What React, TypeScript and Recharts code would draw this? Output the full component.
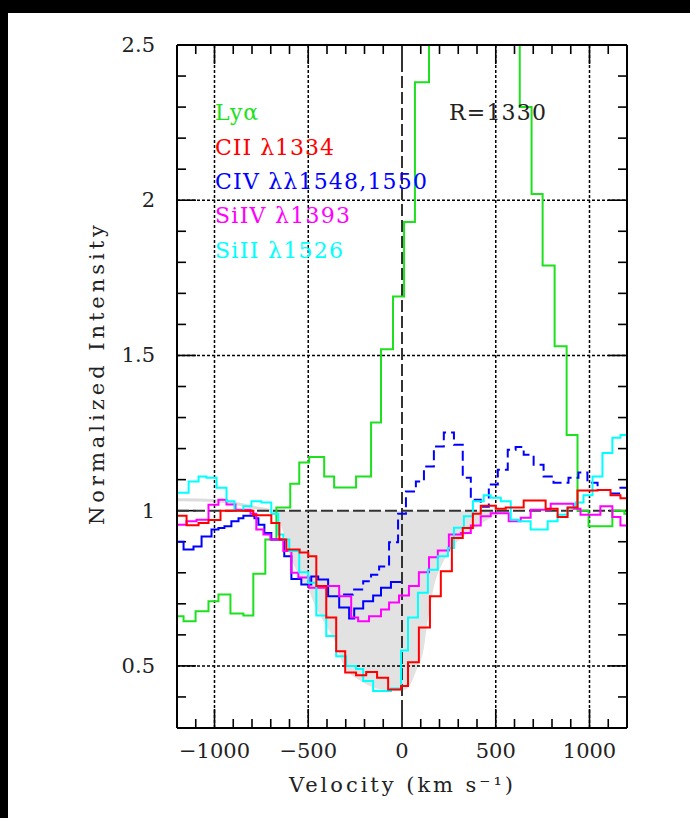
import { ComposedChart, Line, Area, XAxis, YAxis, ReferenceLine } from 'recharts';

// Lyα (green)
const lyaV = [-1200, -1165, -1101, -1032, -979, -915, -846, -793, -729, -670, -596, -548, -495, -415, -362, -245, -165, -112, -48, 11, 69, 144, 202, 261, 319, 378, 436, 495, 553, 628, 691, 750, 814, 878, 936, 995, 1122, 1186, 1200];
const lyaI = [0.66, 0.644, 0.676, 0.708, 0.73, 0.669, 0.662, 0.797, 0.907, 1.01, 1.087, 1.155, 1.173, 1.11, 1.075, 1.11, 1.284, 1.52, 1.69, 1.93, 2.38, 2.8, 3.1, 3.4, 3.5, 3.4, 3.2, 3.0, 2.8, 2.3, 2.02, 1.79, 1.53, 1.244, 1.0, 0.95, 1.0, 0.99, 0.99];

// CII λ1334 (red)
const ciiV = [-1200, -1149, -1085, -1032, -968, -883, -793, -697, -654, -617, -546, -500, -457, -404, -351, -303, -245, -191, -133, -74, -5, 32, 90, 149, 207, 266, 324, 378, 420, 500, 553, 649, 766, 830, 883, 936, 1043, 1112, 1165, 1200];
const ciiI = [0.984, 0.953, 0.96, 0.97, 1.0, 1.0, 0.985, 0.96, 0.907, 0.875, 0.865, 0.853, 0.757, 0.656, 0.547, 0.479, 0.47, 0.48, 0.462, 0.424, 0.435, 0.512, 0.624, 0.724, 0.805, 0.912, 0.944, 0.99, 1.016, 1.006, 1.01, 1.033, 1.006, 0.98, 1.01, 1.065, 1.067, 1.05, 1.04, 1.04];

// CIV λ1548 (blue, solid) and λ1550 (blue, dashed)
const civV = [-1200, -1165, -1112, -1069, -1016, -979, -947, -910, -872, -846, -787, -766, -734, -697, -628, -590, -537, -484, -447, -394, -335, -282, -255, -207, -154, -112, -59, -5];
const civI = [0.9, 0.875, 0.885, 0.917, 0.939, 0.944, 0.95, 0.966, 0.976, 0.984, 0.976, 0.955, 0.928, 0.907, 0.853, 0.78, 0.762, 0.788, 0.778, 0.724, 0.688, 0.653, 0.685, 0.708, 0.727, 0.752, 0.77, 0.77];
const civbV = [-314, -261, -207, -165, -122, -69, -21, 21, 74, 117, 170, 223, 277, 324, 367, 420, 463, 511, 564, 606, 649, 702, 755, 808, 888, 941, 989, 1043, 1101, 1165, 1200];
const civbI = [0.73, 0.746, 0.773, 0.794, 0.82, 0.898, 0.99, 1.062, 1.094, 1.142, 1.207, 1.252, 1.212, 1.106, 1.035, 1.013, 1.084, 1.132, 1.196, 1.205, 1.18, 1.148, 1.11, 1.09, 1.106, 1.123, 1.09, 1.067, 1.055, 1.074, 1.074];

// SiIV λ1393 (magenta)
const siivV = [-1200, -1149, -1096, -1032, -979, -936, -888, -808, -777, -739, -702, -633, -590, -553, -495, -415, -335, -271, -234, -176, -112, -69, -16, 37, 90, 144, 191, 250, 314, 367, 420, 473, 569, 633, 686, 793, 915, 952, 1058, 1122, 1165, 1200];
const siivI = [0.955, 0.966, 0.971, 1.019, 1.035, 1.02, 1.003, 0.99, 0.939, 0.923, 0.907, 0.87, 0.8, 0.785, 0.752, 0.757, 0.724, 0.656, 0.644, 0.66, 0.682, 0.704, 0.727, 0.757, 0.802, 0.85, 0.872, 0.923, 0.928, 0.952, 0.982, 0.992, 0.966, 0.977, 1.003, 1.022, 1.006, 0.987, 1.014, 0.98, 0.952, 0.952];

// SiII λ1526 (cyan)
const siiV = [-1200, -1138, -1085, -1043, -989, -936, -894, -846, -803, -750, -697, -660, -633, -601, -548, -500, -457, -404, -351, -298, -245, -207, -154, -59, -5, 32, 85, 138, 191, 245, 277, 330, 378, 436, 473, 527, 580, 622, 686, 777, 830, 883, 926, 968, 1016, 1069, 1122, 1165, 1200];
const siiI = [1.058, 1.094, 1.11, 1.106, 1.074, 1.03, 1.0, 1.014, 1.03, 1.026, 0.99, 0.923, 0.907, 0.87, 0.802, 0.768, 0.662, 0.596, 0.531, 0.5, 0.49, 0.451, 0.419, 0.427, 0.55, 0.656, 0.736, 0.81, 0.853, 0.88, 0.945, 0.982, 1.03, 1.05, 1.042, 1.03, 0.971, 0.966, 0.939, 0.966, 0.987, 1.01, 1.026, 1.05, 1.11, 1.186, 1.235, 1.244, 1.244];

// shaded model profile
const modelV = [-697, -644, -600, -548, -495, -468, -415, -362, -309, -234, -149, -60, -5, 37, 85, 112, 138, 170, 218, 271, 383, 473, 580, 633];
const modelI = [1.0, 0.95, 0.86, 0.79, 0.74, 0.7, 0.64, 0.585, 0.5, 0.457, 0.43, 0.42, 0.42, 0.434, 0.5, 0.543, 0.65, 0.755, 0.833, 0.884, 0.94, 0.977, 0.997, 1.0];
const wingV = [-1200, -1000, -900, -800, -697];
const wingI = [1.035, 1.033, 1.025, 1.012, 1.0];

const X_TICKS = [-1100, -1000, -900, -800, -700, -600, -500, -400, -300, -200, -100, 0, 100, 200, 300, 400, 500, 600, 700, 800, 900, 1000, 1100];
const X_MAJOR = [-1000, -500, 0, 500, 1000];
const Y_TICKS = [0.4, 0.5, 0.6, 0.7, 0.8, 0.9, 1, 1.1, 1.2, 1.3, 1.4, 1.5, 1.6, 1.7, 1.8, 1.9, 2, 2.1, 2.2, 2.3, 2.4, 2.5];
const Y_MAJOR = [0.5, 1, 1.5, 2, 2.5];

const X_DOM = [-1200, 1200];
const Y_DOM = [0.3, 2.5];
const MARGIN = { top: 35, right: 53, bottom: 50, left: 137 };
const W = 690;
const H = 818;
const PLOT_W = W - MARGIN.left - MARGIN.right - 40 - 10;
const PLOT_H = H - MARGIN.top - MARGIN.bottom - 40 - 10;
// tick lengths in px, turned into data units for the inward tick marks
const MINOR = 9;
const MAJOR = 19;
const dx = (px: number) => (px * (X_DOM[1] - X_DOM[0])) / PLOT_W;
const dy = (px: number) => (px * (Y_DOM[1] - Y_DOM[0])) / PLOT_H;

const FONT = 'DejaVu Serif';

const zip = (v: number[], y: number[]) => v.map((x, i) => ({ x, y: y[i] }));

const BottomTick = (p: any) => {
  const v = p.payload.value;
  if (!X_MAJOR.includes(v)) return <g />;
  return (
    <text x={p.x} y={p.y + 30} textAnchor="middle" fontFamily={FONT} fontSize={21} fill="#222">
      {v < 0 ? `\u2212${-v}` : `${v}`}
    </text>
  );
};

const LeftTick = (p: any) => {
  if (!Y_MAJOR.includes(p.payload.value)) return <g />;
  return (
    <text x={p.x - 22} y={p.y + 7} textAnchor="end" fontFamily={FONT} fontSize={21} fill="#222">
      {`${p.payload.value}`}
    </text>
  );
};

const legend = [
  { t: 'Ly\u03b1', c: '#1fe01f', y: 120, w: 43 },
  { t: 'CII \u03bb1334', c: '#ff0000', y: 155, w: 119 },
  { t: 'CIV \u03bb\u03bb1548,1550', c: '#0000ff', y: 189, w: 212 },
  { t: 'SiIV \u03bb1393', c: '#ff00ff', y: 223, w: 135 },
  { t: 'SiII \u03bb1526', c: '#00ffff', y: 258, w: 128 },
];

export default function App() {
  const dotted = { stroke: '#000', strokeWidth: 1.5, strokeDasharray: '3 2' };
  const dashed = { stroke: '#333', strokeWidth: 2, strokeDasharray: '12 4' };
  const tickStyle = { stroke: '#000', strokeWidth: 1.6, ifOverflow: 'visible' as const };
  const axisLine = { stroke: '#000', strokeWidth: 2 };
  const areaData = modelV.map((x, i) => ({ x, r: [modelI[i], 1] }));
  return (
    <div style={{ position: 'relative', width: W, height: H, background: '#fff' }}>
      <style>{'body{margin:0;background:#fff}'}</style>
      <ComposedChart width={W} height={H} margin={MARGIN}>
        <XAxis xAxisId="x" type="number" dataKey="x" domain={X_DOM} allowDataOverflow ticks={X_TICKS}
          interval={0} height={40} tickSize={0} tickMargin={0} tickLine={false} axisLine={axisLine} tick={BottomTick} />
        <XAxis xAxisId="xt" orientation="top" type="number" domain={X_DOM} allowDataOverflow ticks={[]}
          height={10} tickLine={false} axisLine={axisLine} tick={false} />
        <YAxis yAxisId="y" type="number" domain={Y_DOM} allowDataOverflow ticks={Y_TICKS}
          interval={0} width={40} tickSize={0} tickMargin={0} tickLine={false} axisLine={axisLine} tick={LeftTick} />
        <YAxis yAxisId="yr" orientation="right" type="number" domain={Y_DOM} allowDataOverflow ticks={[]}
          width={10} tickLine={false} axisLine={axisLine} tick={false} />

        <Area xAxisId="x" yAxisId="y" data={areaData} dataKey="r" type="monotone" fill="#e2e2e2" fillOpacity={1}
          stroke="none" isAnimationActive={false} />
        <Line xAxisId="x" yAxisId="y" data={zip(wingV, wingI)} dataKey="y" type="monotone" stroke="#dcdcdc"
          strokeWidth={3} dot={false} isAnimationActive={false} />

        {/* inward tick marks on all four sides */}
        {X_TICKS.map(v => {
          const len = X_MAJOR.includes(v) ? MAJOR : MINOR;
          return [
            <ReferenceLine key={`tb${v}`} xAxisId="x" yAxisId="y" {...tickStyle}
              segment={[{ x: v, y: Y_DOM[0] }, { x: v, y: Y_DOM[0] + dy(len) }]} />,
            <ReferenceLine key={`tt${v}`} xAxisId="x" yAxisId="y" {...tickStyle}
              segment={[{ x: v, y: Y_DOM[1] }, { x: v, y: Y_DOM[1] - dy(len) }]} />,
          ];
        })}
        {Y_TICKS.filter(v => v < Y_DOM[1]).map(v => {
          const len = Y_MAJOR.includes(v) ? MAJOR : MINOR;
          return [
            <ReferenceLine key={`tl${v}`} xAxisId="x" yAxisId="y" {...tickStyle}
              segment={[{ x: X_DOM[0], y: v }, { x: X_DOM[0] + dx(len), y: v }]} />,
            <ReferenceLine key={`tr${v}`} xAxisId="x" yAxisId="y" {...tickStyle}
              segment={[{ x: X_DOM[1], y: v }, { x: X_DOM[1] - dx(len), y: v }]} />,
          ];
        })}

        {[-1000, -500, 500, 1000].map(v => (
          <ReferenceLine key={`vx${v}`} xAxisId="x" yAxisId="y" x={v} {...dotted} />
        ))}
        {[0.5, 1.5, 2].map(v => (
          <ReferenceLine key={`hy${v}`} xAxisId="x" yAxisId="y" y={v} {...dotted} />
        ))}
        <ReferenceLine xAxisId="x" yAxisId="y" x={0} {...dashed} />
        <ReferenceLine xAxisId="x" yAxisId="y" y={1} {...dashed} />

        <Line xAxisId="x" yAxisId="y" data={zip(lyaV, lyaI)} dataKey="y" type="stepAfter" stroke="#1fe01f"
          strokeWidth={2} dot={false} isAnimationActive={false} />
        <Line xAxisId="x" yAxisId="y" data={zip(civV, civI)} dataKey="y" type="stepAfter" stroke="#0000ff"
          strokeWidth={2} dot={false} isAnimationActive={false} />
        <Line xAxisId="x" yAxisId="y" data={zip(civbV, civbI)} dataKey="y" type="stepAfter" stroke="#0000ff"
          strokeWidth={2} strokeDasharray="10 5" dot={false} isAnimationActive={false} />
        <Line xAxisId="x" yAxisId="y" data={zip(siivV, siivI)} dataKey="y" type="stepAfter" stroke="#ff00ff"
          strokeWidth={2} dot={false} isAnimationActive={false} />
        <Line xAxisId="x" yAxisId="y" data={zip(siiV, siiI)} dataKey="y" type="stepAfter" stroke="#00ffff"
          strokeWidth={2} dot={false} isAnimationActive={false} />
        <Line xAxisId="x" yAxisId="y" data={zip(ciiV, ciiI)} dataKey="y" type="stepAfter" stroke="#ff0000"
          strokeWidth={2} dot={false} isAnimationActive={false} />
      </ComposedChart>

      <svg width={W} height={H} style={{ position: 'absolute', left: 0, top: 0, pointerEvents: 'none' }}>
        {legend.map(l => (
          <text key={l.t} x={215} y={l.y} fill={l.c} fontFamily={FONT} fontSize={22} textLength={l.w} lengthAdjust="spacing">
            {l.t}
          </text>
        ))}
        <text x={449} y={120} fill="#222" fontFamily={FONT} fontSize={22} textLength={97} lengthAdjust="spacing">R=1330</text>
        <text x={401} y={792} textAnchor="middle" fill="#222" fontFamily={FONT} fontSize={21} textLength={224} lengthAdjust="spacing">
          Velocity (km s{'\u207b\u00b9'})
        </text>
        <text x={0} y={0} transform="translate(104 375) rotate(-90)" textAnchor="middle" fill="#222" fontFamily={FONT}
          fontSize={21} textLength={300} lengthAdjust="spacing">
          Normalized Intensity
        </text>
      </svg>

      <div style={{ position: 'absolute', left: 0, top: 0, width: W, height: 13, background: '#000' }} />
      <div style={{ position: 'absolute', left: 0, top: 0, width: 8, height: H, background: '#000' }} />
    </div>
  );
}
